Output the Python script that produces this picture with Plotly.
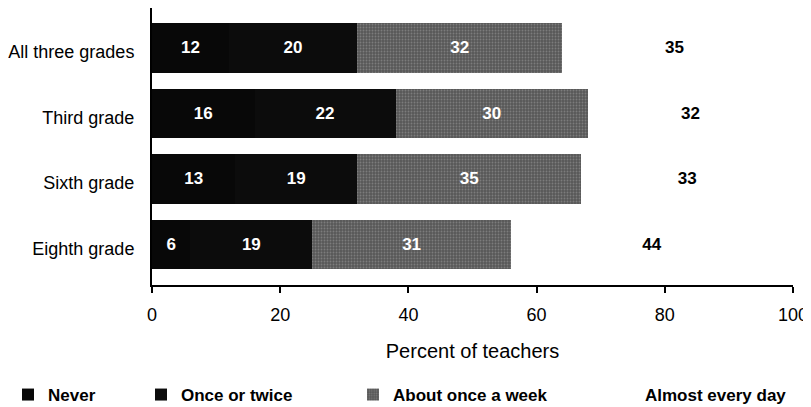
import plotly.graph_objects as go

grades = ["All three grades", "Third grade", "Sixth grade", "Eighth grade"]
never = [12, 16, 13, 6]
once_or_twice = [20, 22, 19, 19]
about_weekly = [32, 30, 35, 31]
almost_daily = [35, 32, 33, 44]

font = "Liberation Sans, Arial, sans-serif"

series = [
    ("Never", never, dict(color="#080808"), "white", "legend"),
    ("Once or twice", once_or_twice, dict(color="#0c0c0c"), "white", "legend2"),
    ("About once a week", about_weekly,
     dict(color="#5e5e5e", pattern=dict(shape=".", fgcolor="#a0a0a0", bgcolor="#585858", size=3, solidity=0.3)),
     "white", "legend3"),
    ("Almost every day", almost_daily, dict(color="white"), "black", "legend4"),
]

fig = go.Figure()
for name, vals, marker, tcolor, leg in series:
    fig.add_trace(go.Bar(
        y=grades, x=vals, name=name, orientation="h",
        marker=dict(line=dict(width=0), **marker),
        width=0.76,
        text=vals, texttemplate="<b>%{text}</b>",
        textposition="inside", insidetextanchor="middle",
        textangle=0, constraintext="none",
        textfont=dict(family=font, size=17, color=tcolor),
        legend=leg, showlegend=True,
    ))

# the page body adds an 8px margin, so the figure is 8px smaller than the window
W, H = 803, 399
legend_style = dict(orientation="h", yanchor="middle", xanchor="left",
                    xref="container", yref="container",
                    font=dict(family=font, size=17, color="black", weight="bold"),
                    bgcolor="rgba(0,0,0,0)")
ly = 12 / H
fig.update_layout(
    barmode="stack",
    width=W, height=H,
    showlegend=True,
    margin=dict(l=144, r=18, t=0, b=122, autoexpand=False),
    paper_bgcolor="white", plot_bgcolor="white",
    font=dict(family=font, color="black"),
    legend=dict(x=0 / W, y=ly, **legend_style),
    legend2=dict(x=133 / W, y=ly, **legend_style),
    legend3=dict(x=345 / W, y=ly, **legend_style),
    legend4=dict(x=597 / W, y=ly, **legend_style),
    xaxis=dict(
        range=[0, 100], tickvals=[0, 20, 40, 60, 80, 100],
        showgrid=False, zeroline=False,
        showline=True, linecolor="black", linewidth=2,
        ticks="outside", ticklen=6, tickwidth=2, tickcolor="black",
        ticklabelstandoff=6,
        tickfont=dict(family=font, size=18, color="black"),
        title=dict(text="Percent of teachers", font=dict(family=font, size=20, color="black"), standoff=20),
    ),
    yaxis=dict(
        type="category", range=[3.62, -0.61],
        showgrid=False, zeroline=False,
        showline=True, linecolor="black", linewidth=2,
        ticks="", ticklabelstandoff=12, ticklabelshift=-4,
        tickfont=dict(family=font, size=18, color="black"),
    ),
)

fig.write_html("out.html")
